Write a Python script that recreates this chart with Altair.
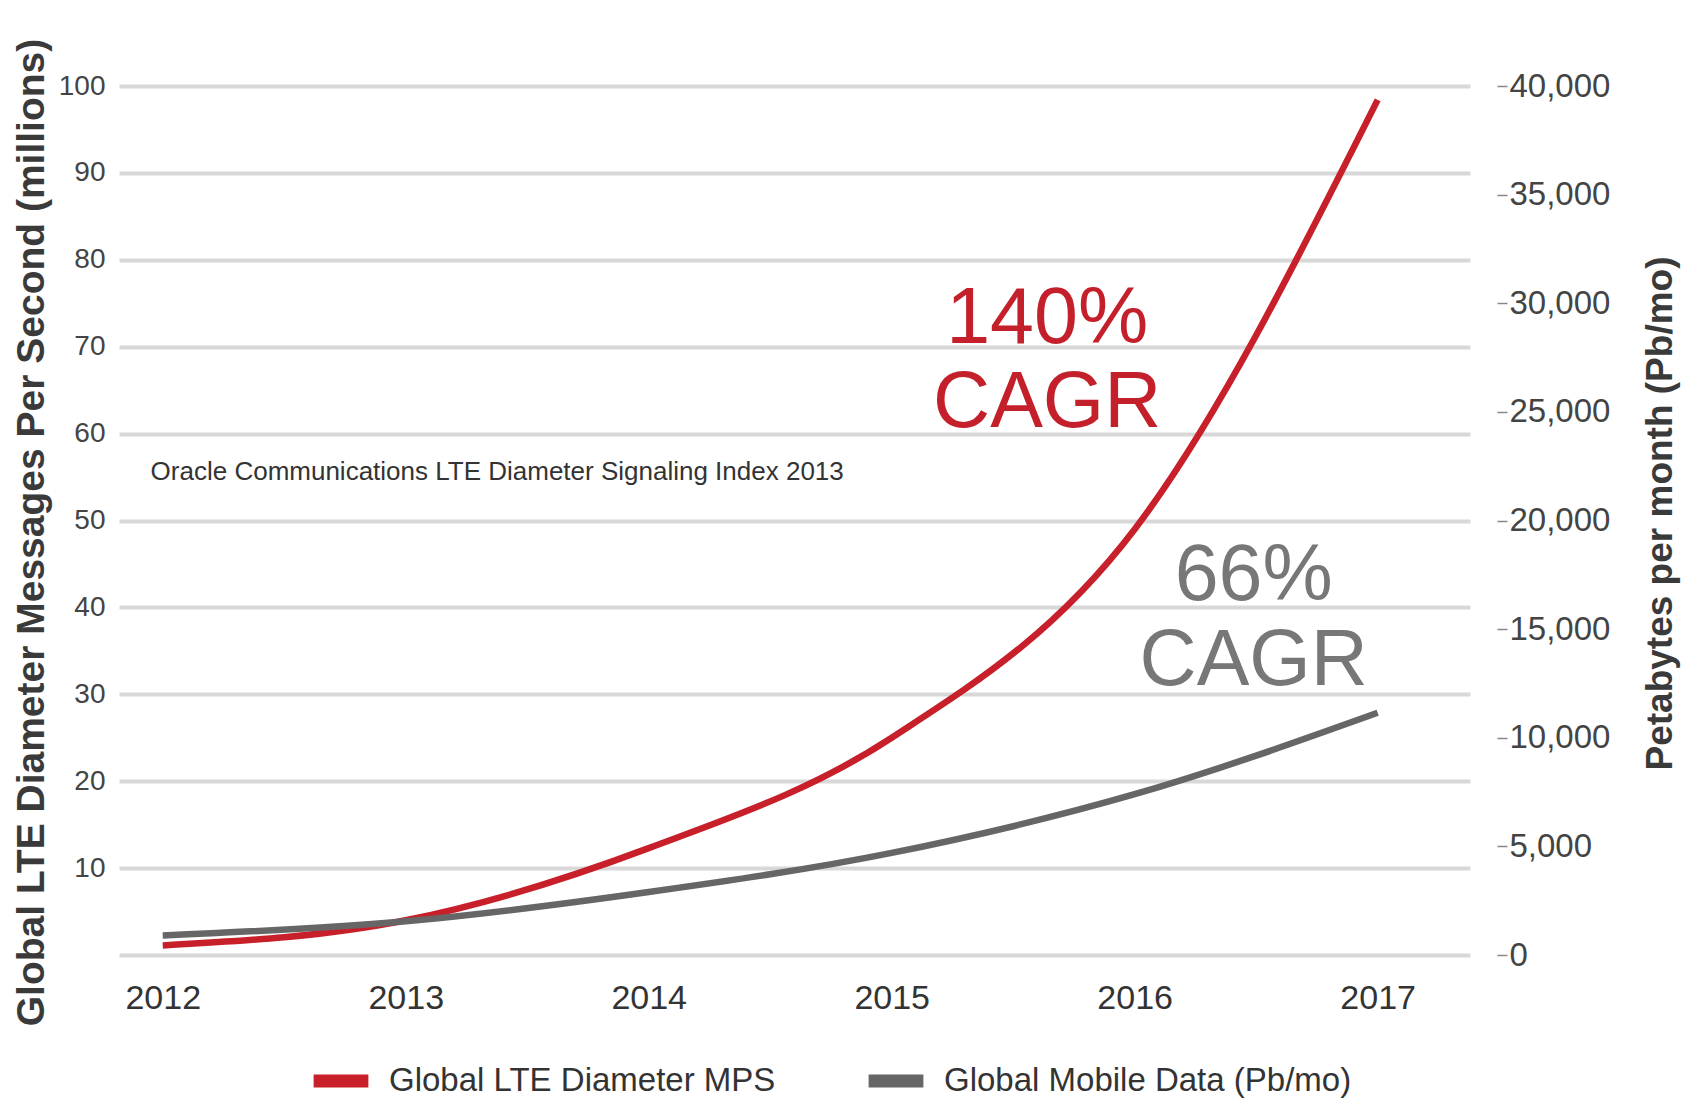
import altair as alt
import pandas as pd

years = [2012, 2013, 2014, 2015, 2016, 2017]
lte_mps = [1.1, 4.0, 12.3, 25.0, 49.0, 98.4]            # millions, left axis
mobile_data = [900, 1550, 2900, 4700, 7400, 11150]      # Pb/mo, right axis

series_names = ["Global LTE Diameter MPS", "Global Mobile Data (Pb/mo)"]
series_colors = ["#c8202b", "#666666"]

cagr_text = ["140%", "CAGR", "66%", "CAGR"]
cagr_year = [2015.64, 2015.64, 2016.49, 2016.49]
cagr_value = [70.4, 60.8, 40.9, 31.1]
cagr_color = ["#c4202c", "#c4202c", "#777777", "#777777"]

note_text = ["Oracle Communications LTE Diameter Signaling Index 2013"]
note_year = [2011.95]
note_value = [55.6]

left_ticks = list(range(0, 101, 10))
right_ticks = list(range(0, 40001, 5000))

FONT = "Liberation Sans, Arial"

red_df = pd.DataFrame({"year": years, "v": lte_mps, "series": series_names[0]})
gray_df = pd.DataFrame({"year": years, "v": mobile_data, "series": series_names[1]})
cagr_df = pd.DataFrame({"t": cagr_text, "year": cagr_year, "v": cagr_value, "c": cagr_color})
note_df = pd.DataFrame({"t": note_text, "year": note_year, "v": note_value})

xscale = alt.Scale(domain=[2011.82, 2017.38], nice=False, zero=False)
xaxis = alt.Axis(values=years, labelExpr="format(datum.value, 'd')", title=None, grid=False,
                 domain=False, ticks=False, labelFont=FONT, labelFontSize=34,
                 labelColor="#333333", labelPadding=26)
color = alt.Color("series:N", scale=alt.Scale(domain=series_names, range=series_colors),
                  legend=alt.Legend(title=None, orient="none", legendX=188, legendY=961,
                                    direction="horizontal", symbolType="stroke",
                                    symbolStrokeWidth=13, symbolSize=3000, labelFont=FONT,
                                    labelFontSize=33, labelColor="#333333", labelOffset=14,
                                    labelLimit=600, columnPadding=66, symbolOpacity=1))

left_scale = alt.Scale(domain=[0, 100], nice=False)
left_axis = alt.Axis(title="Global LTE Diameter Messages Per Second (millions)",
                     values=left_ticks,
                     labelExpr="datum.value == 0 ? '' : format(datum.value, 'd')",
                     grid=True, gridColor="#d8d8d8", gridWidth=4, domain=False, ticks=False,
                     labelFont=FONT, labelFontSize=28, labelColor="#444444", labelPadding=14,
                     titleFont=FONT, titleFontSize=39, titleFontWeight="bold",
                     titleColor="#3a3a3a", titleX=-88, titleY=446, titleAngle=270,
                     titleAlign="center", titleBaseline="middle")

red = alt.Chart(red_df).mark_line(strokeWidth=6.5, interpolate="monotone").encode(
    x=alt.X("year:Q", scale=xscale, axis=xaxis),
    y=alt.Y("v:Q", scale=left_scale, axis=left_axis),
    color=color,
)

cagr = alt.Chart(cagr_df).mark_text(font=FONT, fontSize=79, align="center",
                                    baseline="alphabetic").encode(
    x=alt.X("year:Q", scale=xscale, axis=xaxis),
    y=alt.Y("v:Q", scale=left_scale, axis=left_axis),
    text="t:N",
    color=alt.Color("c:N", scale=None),
)

note = alt.Chart(note_df).mark_text(font=FONT, fontSize=26, align="left", baseline="middle",
                                    color="#333333").encode(
    x=alt.X("year:Q", scale=xscale, axis=xaxis),
    y=alt.Y("v:Q", scale=left_scale, axis=left_axis),
    text="t:N",
)

left = alt.layer(red, cagr, note)

gray = alt.Chart(gray_df).mark_line(strokeWidth=6.5, interpolate="monotone").encode(
    x=alt.X("year:Q", scale=xscale, axis=xaxis),
    y=alt.Y("v:Q", scale=alt.Scale(domain=[0, 40000], nice=False),
            axis=alt.Axis(orient="right", title="Petabytes per month (Pb/mo)",
                          values=right_ticks, labelExpr="format(datum.value, ',')",
                          grid=False, domain=False, ticks=True, tickSize=10,
                          tickColor="#888888", tickWidth=1.5, offset=27, labelFont=FONT,
                          labelFontSize=33, labelColor="#444444", labelPadding=2,
                          titleFont=FONT, titleFontSize=37, titleFontWeight="bold",
                          titleColor="#3a3a3a", titleAngle=270, titleX=163, titleY=427,
                          titleAlign="center", titleBaseline="middle")),
    color=color,
)

chart = alt.layer(left, gray).resolve_scale(y="independent").properties(
    width=1351, height=869,
    autosize=alt.AutoSizeParams(type="none"),
    padding={"left": 111, "top": 78, "right": 214, "bottom": 146},
).configure_view(stroke=None)

chart.save("out.html", embed_options={"renderer": "svg", "actions": False})
